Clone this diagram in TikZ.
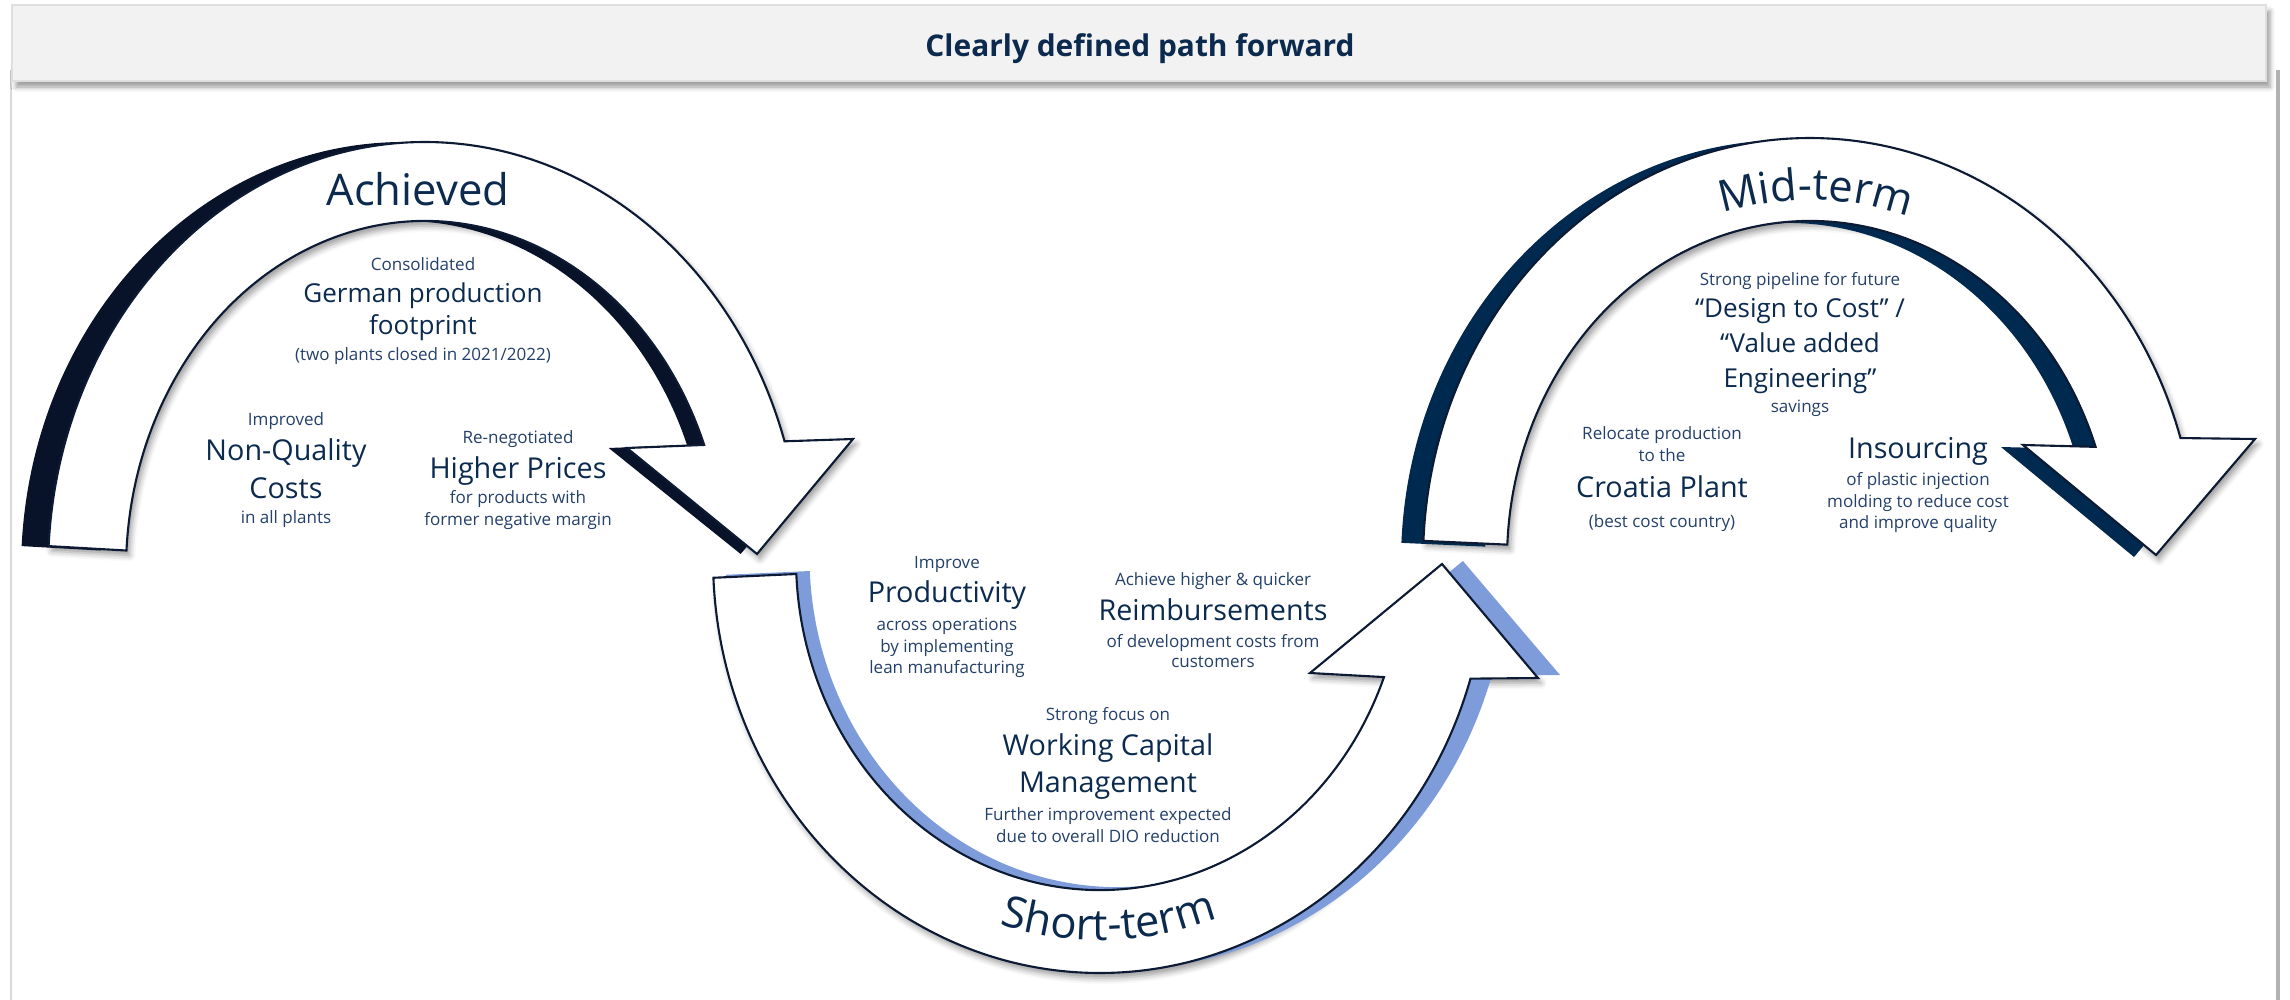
\documentclass[tikz,border=0pt]{standalone}
\usepackage{fontspec}
\setmainfont{Open Sans}
\usetikzlibrary{decorations.text,shadows.blur}

\definecolor{txtdark}{HTML}{0B2A4E}
\definecolor{txtlight}{HTML}{24406A}
\definecolor{arrowline}{HTML}{0D1A33}
\definecolor{achshade}{HTML}{08132A}
\definecolor{shortshade}{HTML}{7F9CDA}
\definecolor{midshade}{HTML}{00294F}
\definecolor{barfill}{HTML}{F2F2F2}

\newcommand{\labelfont}{\fontsize{12.4pt}{15pt}\selectfont\color{txtdark}}

% arrow outlines (pixel units, y pointing up)
\newcommand{\achievedarrow}{([shift={(425,-570)}]176.8:377 and 428)
  arc[start angle=176.8,end angle=17.5,x radius=377,y radius=428]
  -- (853,-439) -- (757,-554) -- (627,-448)
  -- ([shift={(425,-570)}]21:299 and 349)
  arc[start angle=21,end angle=176.8,x radius=299,y radius=349] -- cycle}
\newcommand{\shorttermarrow}{([shift={(1100,-559)}]182.6:387 and 414)
  arc[start angle=182.6,end angle=343.2,x radius=387,y radius=414]
  -- (1538,-678) -- (1442,-564) -- (1310,-673)
  -- ([shift={(1100,-559)}]339.1:304 and 331)
  arc[start angle=339.1,end angle=182.6,x radius=304,y radius=331] -- cycle}
\newcommand{\midtermarrow}{([shift={(1810,-560)}]177.4:387 and 422)
  arc[start angle=177.4,end angle=16.8,x radius=387,y radius=422]
  -- (2255,-439) -- (2156,-555) -- (2023,-445)
  -- ([shift={(1810,-560)}]19.5:303 and 339)
  arc[start angle=19.5,end angle=177.4,x radius=303,y radius=339] -- cycle}

\tikzset{
  arrowbody/.style={fill=white,draw=arrowline,line width=0.6pt},
  softshade/.style={blur shadow={shadow xshift=0.3mm,shadow yshift=-0.5mm,shadow blur radius=0.6mm}},
  smalltxt/.style={anchor=base,inner sep=0pt,text=txtlight,font=\fontsize{4.84pt}{6pt}\selectfont},
  midtxt/.style={anchor=base,inner sep=0pt,text=txtdark,font=\fontsize{7.4pt}{9pt}\selectfont},
  bigtxt/.style={anchor=base,inner sep=0pt,text=txtdark,font=\fontsize{8.17pt}{10pt}\selectfont},
  labeltxt/.style={anchor=base,inner sep=0pt,font=\labelfont},
  titletxt/.style={anchor=base,inner sep=0pt,text=txtdark,font=\fontsize{8.5pt}{10pt}\selectfont\bfseries}
}

\begin{document}
\begin{tikzpicture}[x=0.01cm,y=0.01cm]
\useasboundingbox (0,0) rectangle (2290,-1000);

% frame and heading
\draw[gray!30] (11,-70) -- (11,-1000);
\draw[gray!60,line width=1pt] (2278,-70) -- (2278,-1000);
\fill[barfill,draw=gray!25,blur shadow={shadow xshift=0.4mm,shadow yshift=-0.6mm,shadow blur radius=0.5mm}] (12,-5) rectangle (2266,-81);
\node[titletxt] (title) at (1140,-56) {Clearly defined path forward};

% achieved
\path[softshade] \achievedarrow;
\fill[achshade,xshift=-2.77mm,xscale=1.015] \achievedarrow;
\draw[arrowbody] \achievedarrow;

% short-term
\path[softshade] \shorttermarrow;
\fill[shortshade,xshift=0.43mm,xscale=1.0115,yshift=0.3mm] \shorttermarrow;
\draw[arrowbody] \shorttermarrow;

% mid-term
\path[softshade] \midtermarrow;
\fill[midshade,xshift=-2.2mm,yshift=-0.2mm] \midtermarrow;
\draw[arrowbody] \midtermarrow;

% phase labels
\node[labeltxt] (achieved) at (418,-205) {Achieved};
\path[decorate,decoration={text along path,text align=center,text={|\labelfont|Mid-term}}]
  ([shift={(1810,-560)}]124:325 and 360) arc[start angle=124,end angle=54,x radius=325,y radius=360];
\path[decorate,decoration={text along path,text align=center,text={|\labelfont|Short-term}}]
  ([shift={(1100,-559)}]246:354 and 381) arc[start angle=246,end angle=297,x radius=354,y radius=381];

% achieved texts
\node[smalltxt] (german1) at (423,-270) {Consolidated};
\node[midtxt] (german2) at (423,-302) {German production};
\node[midtxt] (german3) at (423,-334) {footprint};
\node[smalltxt] (german4) at (423,-360) {(two plants closed in 2021/2022)};
\node[smalltxt] (quality1) at (286,-425) {Improved};
\node[bigtxt] (quality2) at (286,-460) {Non-Quality};
\node[bigtxt] (quality3) at (286,-498) {Costs};
\node[smalltxt] (quality4) at (286,-523) {in all plants};
\node[smalltxt] (prices1) at (518,-443) {Re-negotiated};
\node[bigtxt] (prices2) at (518,-478) {Higher Prices};
\node[smalltxt] (prices3) at (518,-503) {for products with};
\node[smalltxt] (prices4) at (518,-525) {former negative margin};

% short-term texts
\node[smalltxt] (product1) at (947,-568) {Improve};
\node[bigtxt] (product2) at (947,-602) {Productivity};
\node[smalltxt] (product3) at (947,-630) {across operations};
\node[smalltxt] (product4) at (947,-652) {by implementing};
\node[smalltxt] (product5) at (947,-673) {lean manufacturing};
\node[smalltxt] (reimb1) at (1213,-585) {Achieve higher \& quicker};
\node[bigtxt] (reimb2) at (1213,-620) {Reimbursements};
\node[smalltxt] (reimb3) at (1213,-647) {of development costs from};
\node[smalltxt] (reimb4) at (1213,-667) {customers};
\node[smalltxt] (capital1) at (1108,-720) {Strong focus on};
\node[bigtxt] (capital2) at (1108,-755) {Working Capital};
\node[bigtxt] (capital3) at (1108,-792) {Management};
\node[smalltxt] (capital4) at (1108,-820) {Further improvement expected};
\node[smalltxt] (capital5) at (1108,-842) {due to overall DIO reduction};

% mid-term texts
\node[smalltxt] (design1) at (1800,-285) {Strong pipeline for future};
\node[midtxt] (design2) at (1800,-317) {“Design to Cost” /};
\node[midtxt] (design3) at (1800,-352) {“Value added};
\node[midtxt] (design4) at (1800,-387) {Engineering”};
\node[smalltxt] (design5) at (1800,-412) {savings};
\node[smalltxt] (croatia1) at (1662,-439) {Relocate production};
\node[smalltxt] (croatia2) at (1662,-461) {to the};
\node[bigtxt] (croatia3) at (1662,-497) {Croatia Plant};
\node[smalltxt] (croatia4) at (1662,-527) {(best cost country)};
\node[bigtxt] (insource1) at (1918,-458) {Insourcing};
\node[smalltxt] (insource2) at (1918,-485) {of plastic injection};
\node[smalltxt] (insource3) at (1918,-507) {molding to reduce cost};
\node[smalltxt] (insource4) at (1918,-528) {and improve quality};
\end{tikzpicture}
\end{document}
